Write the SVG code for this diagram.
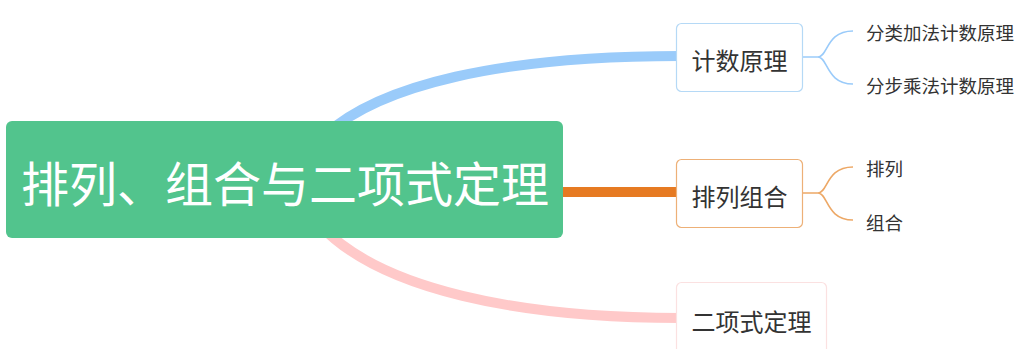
<svg xmlns="http://www.w3.org/2000/svg" width="1025" height="349" viewBox="0 0 1025 349">
<style>
text{font-family:"Noto Sans CJK SC","Noto Sans",sans-serif;dominant-baseline:central;}
.box{fill:#fff;stroke-width:1.2;}
.t2{font-size:24px;fill:#333;text-anchor:middle;}
.t3{font-size:18.5px;fill:#333;}
.sub{fill:none;stroke-width:1.6;}
</style>
<rect width="1025" height="349" fill="#fff"/>
<g id="connectors">
<path d="M325,135 C380,85 500,56 680,56" fill="none" stroke="#9ACBFA" stroke-width="10"/>
<path d="M320,225 C380,290 520,318 680,318" fill="none" stroke="#FFC9C9" stroke-width="10"/>
<path d="M560,192 L680,192" fill="none" stroke="#E67A22" stroke-width="10"/>
<path class="sub" stroke="#9ACBFA" d="M803,57 L818,57 C828,57 826,31 853,31 M818,57 C828,57 826,84 853,84"/>
<path class="sub" stroke="#EDA866" d="M803,193 L818,193 C828,193 826,167 853,167 M818,193 C828,193 826,220 853,220"/>
</g>
<g id="root">
<rect x="6" y="121" width="557" height="117" rx="6" fill="#52C48D"/>
<text x="285" y="181" font-size="48" fill="#fff" text-anchor="middle">排列、组合与二项式定理</text>
</g>
<g id="n1">
<rect class="box" x="676.5" y="23.5" width="126" height="68" rx="5" stroke="#B5D9F6"/>
<text class="t2" x="739.5" y="59">计数原理</text>
</g>
<g id="n2">
<rect class="box" x="676.5" y="159.5" width="126" height="68" rx="5" stroke="#EDB077"/>
<text class="t2" x="739.5" y="195">排列组合</text>
</g>
<g id="n3">
<rect class="box" x="676.5" y="282.5" width="150" height="80" rx="5" stroke="#FBE1E1"/>
<text class="t2" x="751.5" y="320">二项式定理</text>
</g>
<g id="n1a"><text class="t3" x="866" y="32">分类加法计数原理</text></g>
<g id="n1b"><text class="t3" x="866" y="85">分步乘法计数原理</text></g>
<g id="n2a"><text class="t3" x="866" y="168">排列</text></g>
<g id="n2b"><text class="t3" x="866" y="222">组合</text></g>
</svg>
